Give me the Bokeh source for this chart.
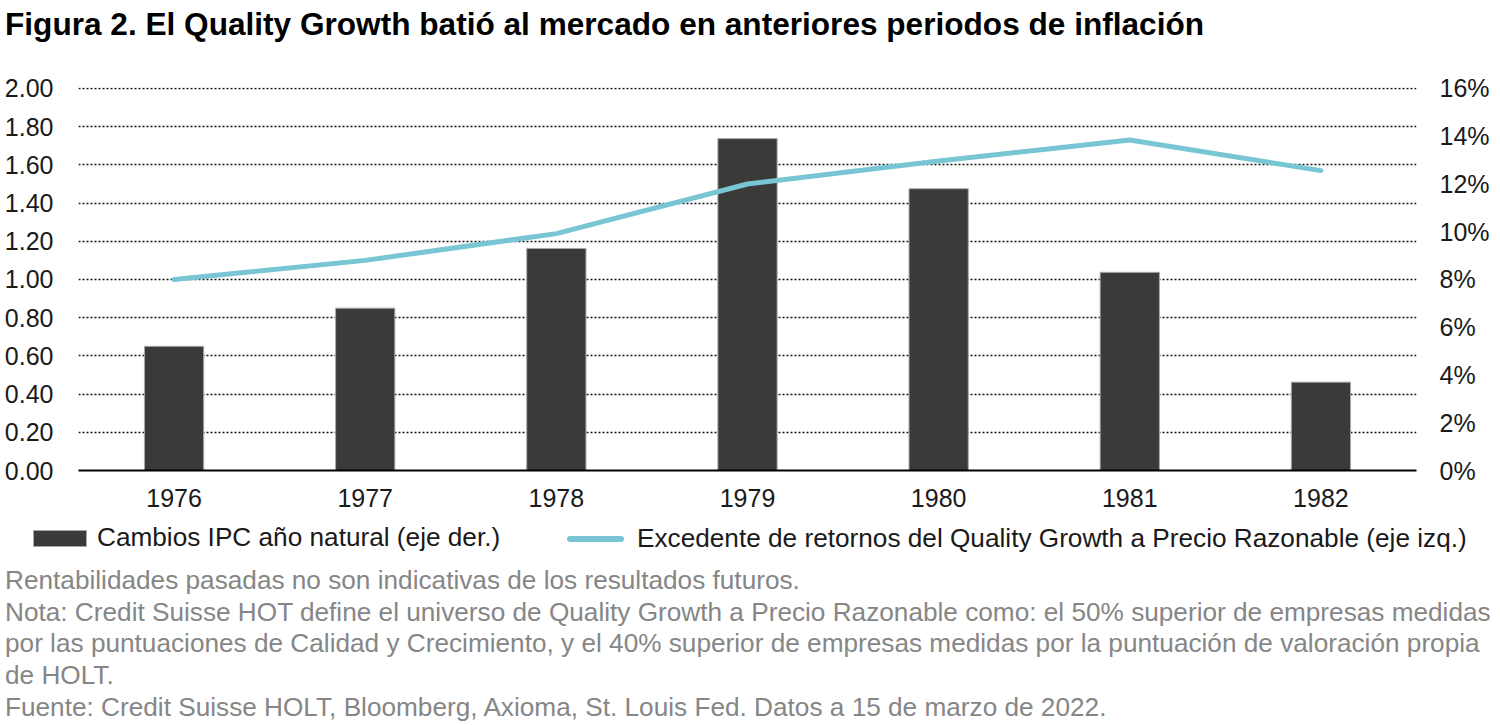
from bokeh.plotting import figure
from bokeh.layouts import column
from bokeh.models import (Range1d, LinearAxis, FixedTicker, CustomJSTickFormatter,
                          ColumnDataSource, Div)
from bokeh.embed import file_html
from bokeh.resources import INLINE

# ---- data ----
years = [1976, 1977, 1978, 1979, 1980, 1981, 1982]
cpi_change = [5.2, 6.8, 9.3, 13.9, 11.8, 8.3, 3.7]          # % (right axis)
excess_returns = [1.00, 1.10, 1.24, 1.50, 1.62, 1.73, 1.57]  # ratio (left axis)
left_ticks = [0.0, 0.2, 0.4, 0.6, 0.8, 1.0, 1.2, 1.4, 1.6, 1.8, 2.0]
right_ticks = [0, 2, 4, 6, 8, 10, 12, 14, 16]

title_text = "Figura 2. El Quality Growth batió al mercado en anteriores periodos de inflación"
bar_label = "Cambios IPC año natural (eje der.)"
line_label = "Excedente de retornos del Quality Growth a Precio Razonable (eje izq.)"
notes = [
    "Rentabilidades pasadas no son indicativas de los resultados futuros.",
    "Nota: Credit Suisse HOT define el universo de Quality Growth a Precio Razonable como: el 50% superior de empresas medidas",
    "por las puntuaciones de Calidad y Crecimiento, y el 40% superior de empresas medidas por la puntuación de valoración propia",
    "de HOLT.",
    "Fuente: Credit Suisse HOLT, Bloomberg, Axioma, St. Louis Fed. Datos a 15 de marzo de 2022.",
]

FONT = "Liberation Sans"
BAR_COLOR = "#3a3b38"
BAR_EDGE = "#a8a8a8"
LINE_COLOR = "#78c6d4"
NOTE_COLOR = "#868686"
TEXT_COLOR = "#1a1a1a"
W = 1492

# ---- title ----
title_div = Div(
    text=(f"<div style=\"font-family:'{FONT}';font-size:31.6px;font-weight:bold;"
          f"color:black;line-height:40px;padding-top:4px;padding-left:5px;"
          f"white-space:nowrap;\">{title_text}</div>"),
    width=W, height=66, margin=(0, 0, 0, 0))

# ---- main chart ----
p = figure(width=W, height=456, output_backend="svg", toolbar_location=None,
           x_range=Range1d(years[0] - 0.5, years[-1] + 0.5),
           y_range=Range1d(0, 2.005),
           min_border_left=78, min_border_right=72,
           min_border_top=21, min_border_bottom=52, margin=(0, 0, 0, 0))
p.extra_y_ranges = {"pct": Range1d(0, 16.04)}
p.outline_line_color = None

p.xgrid.grid_line_color = None
p.ygrid.ticker = FixedTicker(ticks=left_ticks)
p.ygrid.grid_line_color = "#111111"
p.ygrid.grid_line_width = 1.5
p.ygrid.grid_line_dash = "2 2"

src = ColumnDataSource(dict(year=years, cpi=cpi_change, ret=excess_returns))
bars = p.vbar(x="year", top="cpi", width=0.31, bottom=0, source=src,
              y_range_name="pct", fill_color=BAR_COLOR,
              line_color=BAR_EDGE, line_width=1)
ln = p.line(x="year", y="ret", source=src, line_color=LINE_COLOR,
            line_width=5, line_cap="round", line_join="round")

p.xaxis.ticker = FixedTicker(ticks=years)
p.xaxis.axis_line_color = "black"
p.xaxis.axis_line_width = 2
p.xaxis.major_tick_line_color = None
p.xaxis.major_tick_out = 0
p.xaxis.major_tick_in = 0
p.xaxis.minor_tick_line_color = None
p.xaxis.major_label_text_font = FONT
p.xaxis.major_label_text_font_size = "25px"
p.xaxis.major_label_text_color = TEXT_COLOR
p.xaxis.major_label_standoff = 18

p.yaxis.ticker = FixedTicker(ticks=left_ticks)
p.yaxis.formatter = CustomJSTickFormatter(code="return tick.toFixed(2);")
p.yaxis.axis_line_color = None
p.yaxis.major_tick_line_color = None
p.yaxis.major_tick_out = 0
p.yaxis.major_tick_in = 0
p.yaxis.minor_tick_line_color = None
p.yaxis.major_label_text_font = FONT
p.yaxis.major_label_text_font_size = "25px"
p.yaxis.major_label_text_color = TEXT_COLOR
p.yaxis.major_label_standoff = 25

raxis = LinearAxis(y_range_name="pct", ticker=FixedTicker(ticks=right_ticks),
                   formatter=CustomJSTickFormatter(code="return tick.toFixed(0) + '%';"))
raxis.axis_line_color = None
raxis.major_tick_line_color = None
raxis.major_tick_out = 0
raxis.major_tick_in = 0
raxis.minor_tick_line_color = None
raxis.major_label_text_font = FONT
raxis.major_label_text_font_size = "25px"
raxis.major_label_text_color = TEXT_COLOR
raxis.major_label_standoff = 23
p.add_layout(raxis, "right")

# ---- legend (HTML, below the chart) ----
legend_html = (
    "<div style=\"position:relative;width:1492px;height:40px;\">"
    f"<div style=\"position:absolute;left:33px;top:8px;width:54px;height:17px;"
    f"background:{BAR_COLOR};border:1px solid {BAR_EDGE};box-sizing:border-box;\"></div>"
    f"<div style=\"position:absolute;left:97px;top:0px;font-family:'{FONT}';font-size:26.2px;"
    f"line-height:30px;color:{TEXT_COLOR};white-space:nowrap;\">{bar_label}</div>"
    f"<div style=\"position:absolute;left:567px;top:14px;width:57px;height:6px;"
    f"background:{LINE_COLOR};border-radius:3px;\"></div>"
    f"<div style=\"position:absolute;left:637px;top:1px;font-family:'{FONT}';font-size:26.2px;"
    f"line-height:30px;color:{TEXT_COLOR};white-space:nowrap;\">{line_label}</div>"
    "</div>"
)
legend_div = Div(text=legend_html, width=W, height=40, margin=(0, 0, 0, 0))

# ---- notes ----
notes_html = "<br>".join(notes)
notes_div = Div(
    text=(f"<div style=\"font-family:'{FONT}';font-size:26.2px;color:{NOTE_COLOR};"
          f"line-height:31.7px;padding-top:3px;padding-left:5px;"
          f"white-space:nowrap;\">{notes_html}</div>"),
    width=W, height=155, margin=(0, 0, 0, 0), styles={"overflow": "visible"})

layout = column(title_div, p, legend_div, notes_div, spacing=0)
open("out.html", "w").write(file_html(layout, INLINE))
